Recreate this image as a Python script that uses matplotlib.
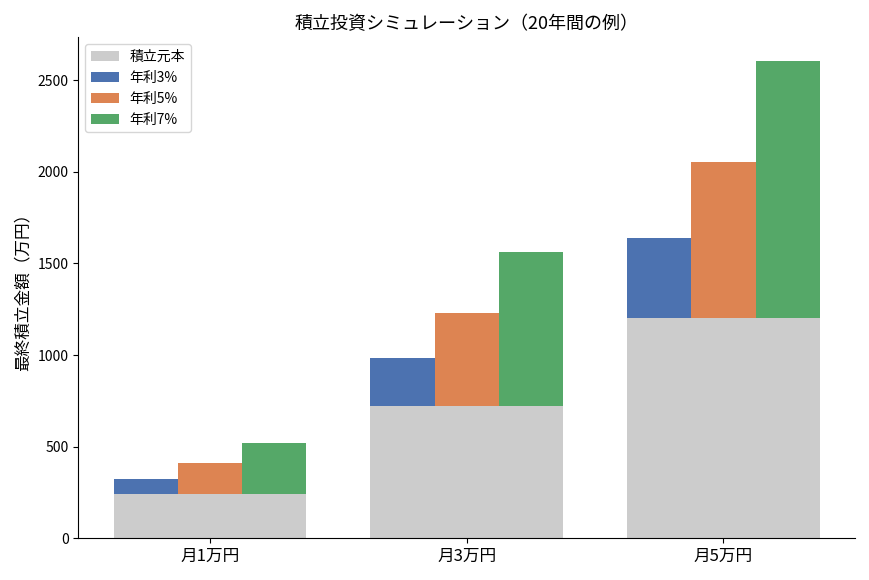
import numpy as np
import matplotlib
matplotlib.use("Agg")
import matplotlib.pyplot as plt

plt.rcParams['font.family'] = ['Noto Sans CJK JP', 'DejaVu Sans']

groups = ["月1万円", "月3万円", "月5万円"]
principal = [240, 720, 1200]
rate_labels = ["年利3%", "年利5%", "年利7%"]
totals = {
    "年利3%": [325, 985, 1641],
    "年利5%": [410, 1232, 2056],
    "年利7%": [520, 1564, 2604],
}
colors = ["#4C72B0", "#DD8452", "#55A868"]

x = np.arange(len(groups))
width = 0.25

fig, ax = plt.subplots(figsize=(8.7, 5.8), dpi=100)
ax.bar(x, principal, width * 3, color="#cccccc", label="積立元本")
for i, lab in enumerate(rate_labels):
    gain = np.array(totals[lab]) - np.array(principal)
    ax.bar(x + (i - 1) * width, gain, width, bottom=principal,
           color=colors[i], label=lab)

ax.set_xticks(x)
ax.set_xticklabels(groups, fontsize=12)
ax.set_ylabel("最終積立金額（万円）", fontsize=12)
ax.set_title("積立投資シミュレーション（20年間の例）", fontsize=13)
ax.spines['top'].set_visible(False)
ax.spines['right'].set_visible(False)
ax.legend(loc="upper left", fontsize=10)

plt.tight_layout()
plt.savefig("out.png")
